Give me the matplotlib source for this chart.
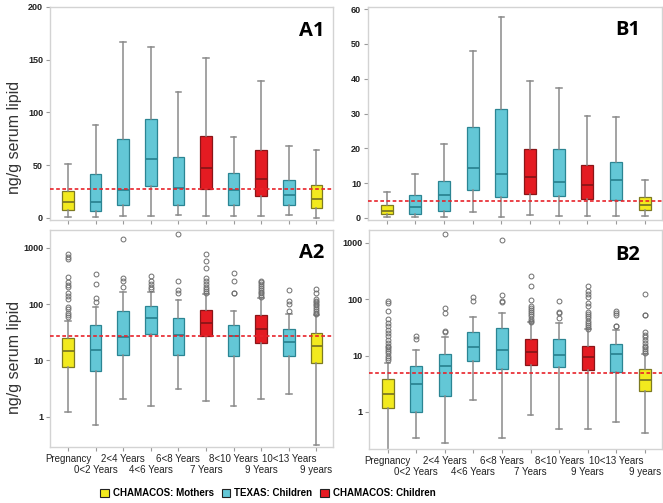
import matplotlib
matplotlib.use("Agg")
import matplotlib.pyplot as plt
from matplotlib.patches import Patch

# age groups, left to right
groups = ["Pregnancy", "0<2 Years", "2<4 Years", "4<6 Years", "6<8 Years",
          "7 Years", "8<10 Years", "9 Years", "10<13 Years", "9 years"]
cohort = ["mother", "texas", "texas", "texas", "texas",
          "child", "texas", "child", "texas", "mother"]

# panel A (ng/g serum lipid)
A_lo = [1.2, 0.71, 2.05, 1.57, 3.1, 1.9, 1.57, 2.1, 2.5, 0.31]
A_q1 = [7.7, 6.4, 12.4, 30, 12.6, 27.4, 12.1, 20.3, 12.1, 9.2]
A_med = [14.6, 15.2, 26.5, 56, 28.6, 47, 26.7, 36.5, 21.4, 17.8]
A_q3 = [25.5, 42, 75, 94, 57.5, 78, 42.5, 64.5, 35.5, 31]
A_hi = [51, 88, 167, 162, 119, 152, 77, 130, 68, 64]
A_out = [
    [58, 65, 71, 81, 90, 123, 141, 161, 198, 220, 243, 306, 630, 694, 770],
    [111, 131, 226, 341],
    [198, 260, 297, 1425],
    [185, 203, 226, 260, 318],
    [155, 178, 254, 1790],
    [161, 172, 185, 198, 226, 260, 297, 447, 588, 773],
    [155, 158, 260, 365],
    [135, 144, 157, 168, 180, 192, 211, 226, 243, 260],
    [75, 100, 112, 180],
    [66, 70, 75, 81, 88, 95, 100, 108, 115, 126, 157, 185],
]
A_ref = 27.5

# panel B
B_lo = [0.2, 0.35, 0.28, 1.65, 0.35, 0.9, 0.5, 0.5, 0.65, 0.42]
B_q1 = [1.2, 1.0, 1.95, 7.9, 5.9, 6.9, 6.2, 5.55, 5.2, 2.4]
B_med = [2.1, 3.1, 6.6, 14.2, 12.6, 11.7, 10.2, 9.5, 10.9, 3.7]
B_q3 = [3.8, 6.5, 10.5, 26, 31.3, 19.9, 19.7, 15.1, 16.2, 5.9]
B_hi = [7.5, 12.6, 21.3, 48, 57.7, 39.3, 37.3, 29.3, 28.9, 10.9]
B_out = [
    [8.5, 9, 10, 11, 12, 13, 14, 15, 17, 19, 22, 25, 28, 33, 38, 45, 62, 85, 95],
    [20, 22],
    [26, 27, 57, 70, 1425],
    [94, 110],
    [90, 95, 120, 1150],
    [40, 42, 45, 50, 55, 60, 65, 70, 75, 97, 175, 260],
    [47, 57, 59, 92],
    [30, 32, 35, 38, 42, 46, 50, 55, 60, 75, 85, 110, 125, 140, 175],
    [33, 34, 53, 58, 62],
    [11, 12, 13, 14, 15, 17, 19, 21, 23, 26, 52, 53, 125],
]
B_ref = 4.9

legend_labels = {"mother": "CHAMACOS: Mothers", "texas": "TEXAS: Children",
                 "child": "CHAMACOS: Children"}
face = {"mother": "#F2EA1E", "texas": "#63C7D6", "child": "#E41B22"}
edge = {"mother": "#7D7A22", "texas": "#2B8593", "child": "#8A1518"}

plt.rcParams["font.family"] = ["Liberation Sans", "DejaVu Sans"]


def draw_panel(ax, lo, q1, med, q3, hi, out, ref, log, ylim, yticks, tag, tag_x, tag_y, labels):
    stats = []
    for i in range(len(groups)):
        stats.append({"whislo": lo[i], "q1": q1[i], "med": med[i], "q3": q3[i],
                      "whishi": hi[i], "fliers": out[i] if log else []})
    pos = list(range(1, len(groups) + 1))
    res = ax.bxp(stats, positions=pos, widths=0.42, capwidths=0.2,
                 patch_artist=True, showfliers=log,
                 whiskerprops=dict(color="#8A8A8A", lw=1.1),
                 capprops=dict(color="#8A8A8A", lw=1.1),
                 flierprops=dict(marker="o", markersize=3.5, markerfacecolor="none",
                                 markeredgecolor="#6E6E6E", markeredgewidth=0.7),
                 medianprops=dict(lw=1.3))
    for i, c in enumerate(cohort):
        res["boxes"][i].set_facecolor(face[c])
        res["boxes"][i].set_edgecolor(edge[c])
        res["boxes"][i].set_linewidth(0.9)
        res["medians"][i].set_color(edge[c])
    ax.axhline(ref, color="#E8232A", ls=(0, (2.2, 1.5)), lw=1.2, zorder=5)
    if log:
        ax.set_yscale("log")
    ax.set_yticks(yticks, labels=[str(t) for t in yticks],
                  fontsize=6.5, fontweight="bold")
    ax.minorticks_off()
    ax.set_ylim(*ylim)
    ax.set_xlim(0.35, len(groups) + 0.6)
    ax.set_xticks(pos)
    ax.set_xticklabels([])
    if labels:
        # two staggered rows of group names under the axis
        for i, g in enumerate(groups):
            dy = -12 if i % 2 == 0 else -23
            ax.annotate(g, xy=(pos[i], 0), xycoords=("data", "axes fraction"),
                        xytext=(0, dy), textcoords="offset pixels",
                        ha="center", va="center", fontsize=7, color="#222222")
    ax.tick_params(colors="#9A9A9A", labelcolor="#222222", length=3, width=0.8, pad=2)
    for s in ax.spines.values():
        s.set_color("#D3D3D3")
        s.set_linewidth(1.0)
    ax.text(tag_x, tag_y, tag, transform=ax.transAxes, ha="right", va="center",
            fontsize=14.5, fontweight="bold", family=["Open Sans", "DejaVu Sans"])


fig = plt.figure(figsize=(6.63, 5.03), dpi=100)
W, H = 663.0, 503.0


def box(l, r, t, b):
    return [l / W, 1 - b / H, (r - l) / W, (b - t) / H]


axA1 = fig.add_axes(box(50, 333, 7, 220))
axB1 = fig.add_axes(box(368, 662, 7, 220))
axA2 = fig.add_axes(box(50, 333, 230, 447))
axB2 = fig.add_axes(box(369, 662, 230, 449))

log_ticks = [1, 10, 100, 1000]
draw_panel(axA1, A_lo, A_q1, A_med, A_q3, A_hi, A_out, A_ref, False, (-2, 200),
           [0, 50, 100, 150, 200], "A1", 0.97, 0.887, False)
draw_panel(axB1, B_lo, B_q1, B_med, B_q3, B_hi, B_out, B_ref, False, (-0.6, 60.6),
           [0, 10, 20, 30, 40, 50, 60], "B1", 0.925, 0.89, False)
draw_panel(axA2, A_lo, A_q1, A_med, A_q3, A_hi, A_out, A_ref, True, (0.29, 2080),
           log_ticks, "A2", 0.97, 0.894, True)
draw_panel(axB2, B_lo, B_q1, B_med, B_q3, B_hi, B_out, B_ref, True, (0.22, 1700),
           log_ticks, "B2", 0.925, 0.885, True)

for yc in (137, 357):
    fig.text(15 / W, 1 - yc / H, "ng/g serum lipid", rotation=90, ha="center",
             va="center", fontsize=11.5, color="#333333")

handles = [Patch(facecolor=face[k], edgecolor="#222222", lw=0.8) for k in legend_labels]
fig.legend(handles, list(legend_labels.values()), loc="center", ncol=3,
           bbox_to_anchor=(268 / W, 1 - 493 / H), frameon=False,
           prop={"size": 7, "weight": "bold"},
           handlelength=0.9, handleheight=0.9, handletextpad=0.4, columnspacing=0.8)

fig.savefig("out.png", dpi=100)
